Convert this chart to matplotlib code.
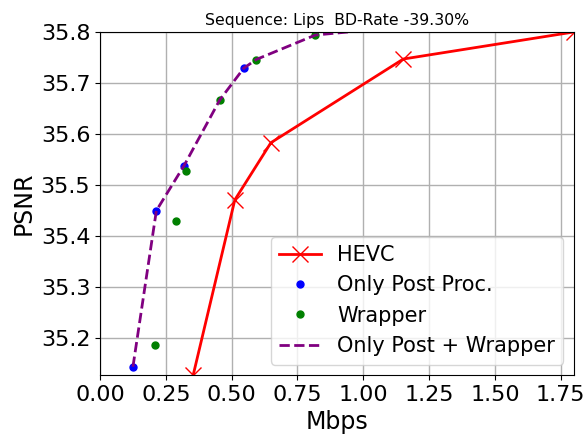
import matplotlib
matplotlib.use("Agg")
import matplotlib.pyplot as plt

# ========================
# DATA
# ========================
hevc_rate = [0.354, 0.512, 0.649, 1.152, 1.80]
hevc_psnr = [35.128, 35.471, 35.583, 35.747, 35.80]

post_rate = [0.125, 0.214, 0.319, 0.546]
post_psnr = [35.144, 35.450, 35.538, 35.729]

wrap_rate = [0.208, 0.288, 0.327, 0.455, 0.593, 0.818]
wrap_psnr = [35.186, 35.430, 35.527, 35.667, 35.746, 35.794]

comb_rate = [0.125, 0.214, 0.319, 0.455, 0.546, 0.593, 0.818, 1.15]
comb_psnr = [35.144, 35.450, 35.538, 35.667, 35.729, 35.746, 35.794, 35.81]

TITLE = "Sequence: Lips  BD-Rate -39.30%"

# ========================
# PLOT
# ========================
fig = plt.figure(figsize=(5.85, 4.38), dpi=100)
ax = fig.add_axes([0.171, 0.144, 0.810, 0.783])

ax.plot(hevc_rate, hevc_psnr, color="red", marker="x", markersize=12,
        linewidth=2, label="HEVC")
ax.plot(post_rate, post_psnr, "o", color="blue", markersize=5,
        label="Only Post Proc.")
ax.plot(wrap_rate, wrap_psnr, "o", color="green", markersize=5,
        label="Wrapper")
ax.plot(comb_rate, comb_psnr, "--", color="purple", linewidth=2,
        label="Only Post + Wrapper")

ax.set_xlim(0, max(hevc_rate))
ax.set_ylim(min(hevc_psnr), max(hevc_psnr))
ax.set_xticks([0.0, 0.25, 0.5, 0.75, 1.0, 1.25, 1.5, 1.75])
ax.set_yticks([35.2, 35.3, 35.4, 35.5, 35.6, 35.7, 35.8])
ax.tick_params(labelsize=16)
ax.grid(True, color="#b0b0b0", linewidth=1)

ax.set_xlabel("Mbps", fontsize=17)
ax.set_ylabel("PSNR", fontsize=17)
ax.set_title(TITLE, fontsize=11.3, pad=5)
ax.legend(loc="lower right", fontsize=15)

fig.savefig("out.png", dpi=100)
